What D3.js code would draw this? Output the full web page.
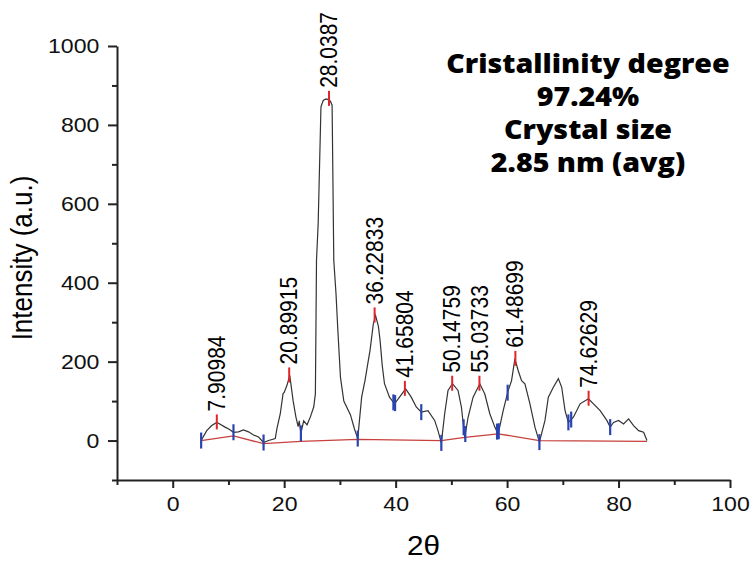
<!DOCTYPE html>
<html>
<head>
<meta charset="utf-8">
<script src="https://cdn.jsdelivr.net/npm/d3@7"></script>
<style>
  body { margin: 0; background: #fff; }
  svg { display: block; }
  .axis path, .axis line { stroke: #222; }
  .axis text { font-family: "Liberation Sans", Arial, sans-serif; fill: #111; }
</style>
</head>
<body>
<div id="chart"></div>
<script>
// XRD pattern
var twoTheta = [5.1, 6.1, 7.0, 7.9, 8.2, 9.4, 10.2, 10.9, 11.8, 12.7, 13.6, 14.5, 15.4, 16.3, 17.2, 18.4, 18.7, 19.3, 19.8, 20.0, 20.5, 21.0,
  21.6, 22.1, 22.5, 22.7, 23.0, 23.5, 24.1, 24.7, 25.3, 25.6, 25.8, 26.1, 26.6, 27.0, 27.5, 27.9, 28.3, 28.6, 28.9, 29.3, 29.6, 30.1,
  30.7, 31.9, 32.6, 33.2, 33.9, 34.5, 35.1, 35.4, 36.0, 36.4, 36.9, 37.2, 37.6, 38.0, 38.9, 39.8, 40.7, 41.8, 42.8, 43.7, 44.6, 45.8,
  47.0, 47.6, 48.2, 48.8, 49.4, 50.2, 51.2, 51.8, 52.4, 53.0, 53.9, 55.1, 56.0, 56.9, 57.8, 58.4, 59.3, 60.2, 60.8, 61.4, 62.0, 62.6,
  63.2, 64.1, 65.0, 65.8, 66.8, 67.4, 68.3, 69.2, 69.8, 70.4, 71.0, 71.9, 73.1, 74.6, 75.5, 76.7, 77.9, 78.5, 79.1, 80.0, 80.9, 81.8,
  82.7, 83.6, 84.5, 85.1];
var intensity = [0, 25, 38, 46, 44, 34, 28, 21, 22, 27, 22, 14, 9, -5, 0, 5, 30, 68, 119, 122, 140, 165,
  101, 60, 35, 50, 18, 50, 40, 60, 85, 119, 457, 550, 846, 862, 866, 864, 860, 850, 457, 372, 288, 160,
  100, 65, 30, 5, 110, 152, 203, 228, 296, 317, 290, 255, 190, 144, 110, 93, 110, 131, 110, 85, 72, 76,
  51, 25, -6, 68, 127, 144, 127, 85, 8, 59, 110, 144, 118, 68, 34, 17, 76, 127, 152, 207, 177, 152,
  144, 93, 34, -4, 51, 110, 135, 157, 135, 76, 46, 59, 93, 106, 93, 76, 51, 34, 46, 51, 42, 55,
  38, 25, 21, 0];

// fitted baseline
var baseX = [5.1, 10.9, 16.3, 23.0, 33.2, 48.2, 52.4, 58.4, 65.8, 85.1];
var baseY = [0, 12, -8, -2, 3, 0, 8, 17, 0, -2];

// peak boundary markers
var boundX = [5.1, 10.9, 16.3, 23.0, 33.2, 39.6, 39.9, 44.6, 48.2, 52.2, 52.5, 58.2, 58.5, 60.1, 65.8, 71.0, 71.5, 78.5];

// labelled peaks
var peakX = [7.90984, 20.89915, 28.0387, 36.22833, 41.65804, 50.14759, 55.03733, 61.48699, 74.62629];
var peakLabels = ["7.90984", "20.89915", "28.0387", "36.22833", "41.65804", "50.14759", "55.03733", "61.48699", "74.62629"];
var peakY = [46, 165, 866, 317, 131, 144, 144, 207, 106];

var infoLines = ["Cristallinity degree", "97.24%", "Crystal size", "2.85 nm (avg)"];

var width = 755, height = 561;
var margin = {left: 117, right: 25, top: 46, bottom: 81};

var x = d3.scaleLinear().domain([-10, 100]).range([margin.left, width - margin.right]);
var y = d3.scaleLinear().domain([-100, 1000]).range([height - margin.bottom, margin.top]);

var svg = d3.select('#chart').append('svg')
  .attr('width', width)
  .attr('height', height);

// the picture is a little wider than tall, so stretch text sideways a bit
var stretch = 'scale(1.1,1)';

// minor ticks first so the main axis line sits on top
svg.append('g')
  .attr('class', 'axis')
  .attr('transform', 'translate(0,' + y(-100) + ')')
  .call(d3.axisBottom(x).tickValues([-10, 10, 30, 50, 70, 90]).tickSize(5).tickFormat(''))
  .call(function(g) { g.select('.domain').remove(); })
  .selectAll('line').attr('stroke-width', 2);

svg.append('g')
  .attr('class', 'axis')
  .attr('transform', 'translate(' + x(-10) + ',0)')
  .call(d3.axisLeft(y).tickValues([-100, 100, 300, 500, 700, 900]).tickSize(5).tickFormat(''))
  .call(function(g) { g.select('.domain').remove(); })
  .selectAll('line').attr('stroke-width', 2);

var xAxis = svg.append('g')
  .attr('class', 'axis')
  .attr('transform', 'translate(0,' + y(-100) + ')')
  .call(d3.axisBottom(x).tickValues([0, 20, 40, 60, 80, 100]).tickFormat(d3.format('d'))
    .tickSize(8).tickSizeOuter(0).tickPadding(8));
xAxis.selectAll('text').style('font-size', '21px').attr('transform', stretch);
xAxis.selectAll('line').attr('stroke-width', 2);
xAxis.select('.domain').attr('stroke-width', 2);

var yAxis = svg.append('g')
  .attr('class', 'axis')
  .attr('transform', 'translate(' + x(-10) + ',0)')
  .call(d3.axisLeft(y).tickValues([0, 200, 400, 600, 800, 1000]).tickFormat(d3.format('d'))
    .tickSize(9).tickSizeOuter(0).tickPadding(7));
yAxis.selectAll('text').style('font-size', '21px').attr('transform', stretch);
yAxis.selectAll('line').attr('stroke-width', 2);
yAxis.select('.domain').attr('stroke-width', 2);

// axis titles
svg.append('text')
  .attr('transform', 'translate(' + x(45) + ',555) ' + stretch)
  .attr('text-anchor', 'middle')
  .style('font-family', '"Liberation Sans", Arial, sans-serif')
  .style('font-size', '27px')
  .text('2θ');

svg.append('text')
  .attr('transform', 'translate(32,258) ' + stretch + ' rotate(-90)')
  .attr('text-anchor', 'middle')
  .style('font-family', '"Liberation Sans", Arial, sans-serif')
  .style('font-size', '26px')
  .text('Intensity (a.u.)');

// baseline
var baseData = baseX.map(function(d, i) { return [d, baseY[i]]; });
svg.append('path')
  .datum(baseData)
  .attr('fill', 'none')
  .attr('stroke', '#c8403c')
  .attr('stroke-width', 1.3)
  .attr('d', d3.line().x(function(d) { return x(d[0]); }).y(function(d) { return y(d[1]); }));

// pattern
var curve = twoTheta.map(function(d, i) { return [d, intensity[i]]; });
svg.append('path')
  .datum(curve)
  .attr('fill', 'none')
  .attr('stroke', '#333')
  .attr('stroke-width', 1.2)
  .attr('d', d3.line().x(function(d) { return x(d[0]); }).y(function(d) { return y(d[1]); }));

// value of the pattern at a given angle
var bis = d3.bisector(function(d) { return d[0]; }).left;
function at(v) {
  var i = bis(curve, v);
  if (i <= 0) return curve[0][1];
  if (i >= curve.length) return curve[curve.length - 1][1];
  var a = curve[i - 1], b = curve[i];
  return a[1] + (b[1] - a[1]) * (v - a[0]) / (b[0] - a[0]);
}

// blue boundary ticks
svg.selectAll('.bound')
  .data(boundX)
  .enter().append('line')
  .attr('class', 'bound')
  .attr('x1', function(d) { return x(d); })
  .attr('x2', function(d) { return x(d); })
  .attr('y1', function(d) { return y(at(d)) - 8; })
  .attr('y2', function(d) { return y(at(d)) + 8; })
  .attr('stroke', '#2a44b0')
  .attr('stroke-width', 2.2);

// red peak ticks and labels
var peak = svg.selectAll('.peak')
  .data(peakX)
  .enter().append('g')
  .attr('class', 'peak')
  .attr('transform', function(d, i) { return 'translate(' + x(d) + ',' + y(peakY[i]) + ')'; });

peak.append('line')
  .attr('y1', -8)
  .attr('y2', 7)
  .attr('stroke', '#e0242a')
  .attr('stroke-width', 2);

peak.append('text')
  .attr('transform', 'translate(0,-11) ' + stretch + ' rotate(-90)')
  .attr('dy', '0.35em')
  .style('font-family', '"Liberation Sans", Arial, sans-serif')
  .style('font-size', '21px')
  .text(function(d, i) { return peakLabels[i]; });

// info text
svg.append('g')
  .attr('transform', 'translate(588,0) ' + stretch)
  .selectAll('text')
  .data(infoLines)
  .enter().append('text')
  .attr('x', 0)
  .attr('y', function(d, i) { return 73 + i * 33; })
  .attr('text-anchor', 'middle')
  .style('font-family', '"Open Sans", sans-serif')
  .style('font-weight', 800)
  .style('font-size', '26px')
  .text(function(d) { return d; });
</script>
</body>
</html>
